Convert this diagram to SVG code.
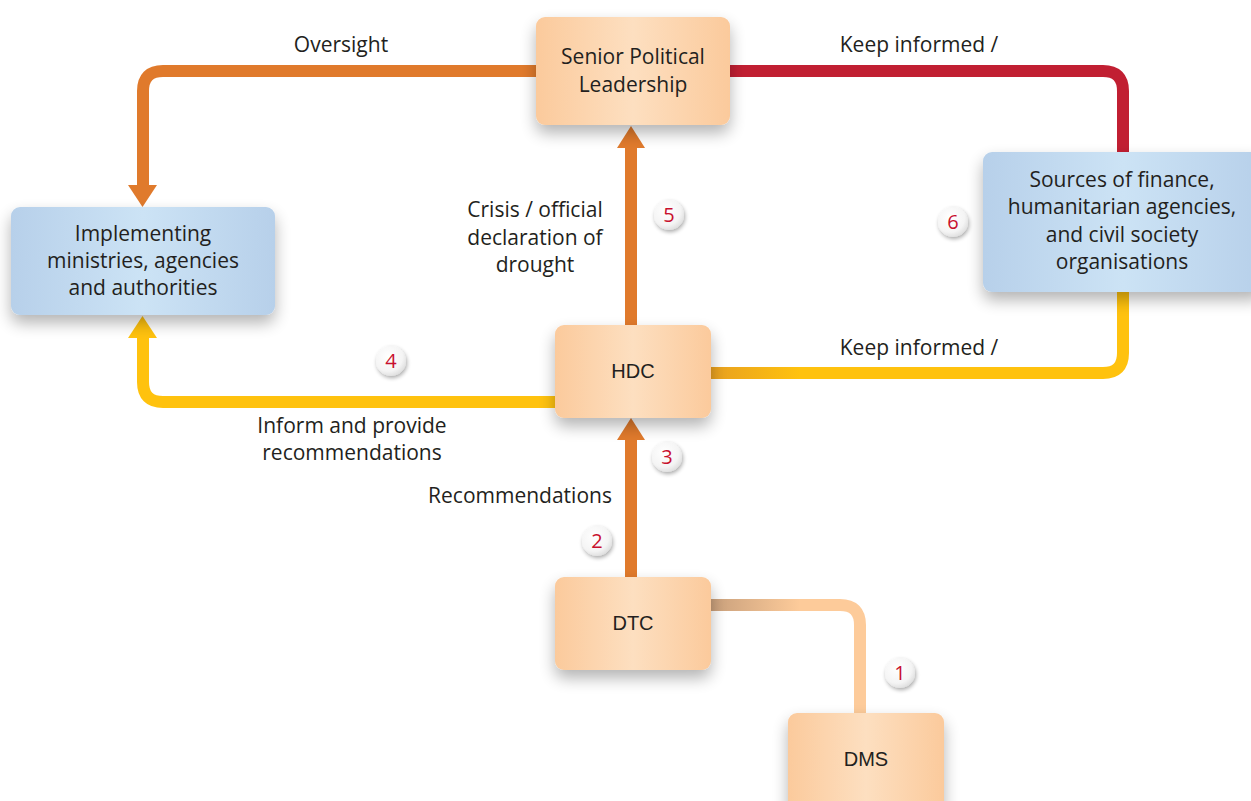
<svg xmlns="http://www.w3.org/2000/svg" width="1251" height="801" viewBox="0 0 1251 801">
<defs>
<linearGradient id="peach" x1="0" y1="0" x2="1" y2="0">
<stop offset="0" stop-color="#FBCA9C"/>
<stop offset="0.5" stop-color="#FDDFC0"/>
<stop offset="1" stop-color="#FBCA9C"/>
</linearGradient>
<linearGradient id="blue" x1="0" y1="0" x2="1" y2="0">
<stop offset="0" stop-color="#B7D0EA"/>
<stop offset="0.5" stop-color="#CCE3F5"/>
<stop offset="1" stop-color="#B7D0EA"/>
</linearGradient>
<linearGradient id="yelR" gradientUnits="userSpaceOnUse" x1="711" y1="0" x2="800" y2="0">
<stop offset="0" stop-color="#E8A020"/>
<stop offset="1" stop-color="#FFC20E"/>
</linearGradient>
<linearGradient id="dmsG" gradientUnits="userSpaceOnUse" x1="711" y1="0" x2="800" y2="0">
<stop offset="0" stop-color="#C9A07C"/>
<stop offset="1" stop-color="#FDCB9A"/>
</linearGradient>
<radialGradient id="badge" cx="0.4" cy="0.35" r="0.7">
<stop offset="0" stop-color="#FFFFFF"/>
<stop offset="0.7" stop-color="#F4F4F4"/>
<stop offset="1" stop-color="#DCDCDC"/>
</radialGradient>
<filter id="sh" x="-20%" y="-30%" width="140%" height="180%">
<feGaussianBlur in="SourceAlpha" stdDeviation="8"/>
<feOffset dy="8"/>
<feComponentTransfer><feFuncA type="linear" slope="0.3"/></feComponentTransfer>
<feMerge><feMergeNode/><feMergeNode in="SourceGraphic"/></feMerge>
</filter>
<filter id="bsh" x="-50%" y="-50%" width="200%" height="200%">
<feGaussianBlur in="SourceAlpha" stdDeviation="2"/>
<feOffset dx="1" dy="2"/>
<feComponentTransfer><feFuncA type="linear" slope="0.35"/></feComponentTransfer>
<feMerge><feMergeNode/><feMergeNode in="SourceGraphic"/></feMerge>
</filter>
<style>
.box{stroke:none}
.t{font-family:"Open Sans",Lato,sans-serif;font-size:21px;fill:#231F20;text-anchor:middle}
.ts{font-family:"Liberation Sans",Arial,sans-serif;font-size:20px;fill:#231F20;text-anchor:middle}
.lbl{font-family:"Open Sans",Lato,sans-serif;font-size:21px;fill:#231F20;text-anchor:middle}
.ln{fill:none;stroke-width:12}
.num{font-family:"Open Sans",Lato,sans-serif;font-size:20px;fill:#C8102E;text-anchor:middle}
</style>
</defs>
<rect width="1251" height="801" fill="#FFFFFF"/>

<g id="connectors">
<path class="ln" stroke="#E07A2C" d="M536,71 H163 Q143,71 143,91 V186"/>
<polygon fill="#E07A2C" points="128,185 157,185 142.5,207"/>
<path class="ln" stroke="#C11F32" d="M730,71 H1103 Q1123,71 1123,91 V152"/>
<path class="ln" stroke="url(#yelR)" d="M711,373 H800"/>
<path class="ln" stroke="#FFC20E" d="M799,373 H1103 Q1123,373 1123,353 V292"/>
<path class="ln" stroke="#FFC20E" d="M555,402 H163 Q143,402 143,382 V336"/>
<polygon fill="#FFC20E" points="128,338 157,338 142.5,316"/>
<path class="ln" stroke="#E07A2C" d="M631,325 V146"/>
<polygon fill="#E07A2C" points="617,148 645,148 631,126"/>
<path class="ln" stroke="#E07A2C" d="M631,577 V438"/>
<polygon fill="#E07A2C" points="617,440 645,440 631,418"/>
<path class="ln" stroke="url(#dmsG)" d="M711,605 H800"/>
<path class="ln" stroke="#FDCB9A" d="M799,605 H840 Q860,605 860,625 V713"/>
</g>

<g id="spl">
<rect class="box" x="536" y="17" width="194" height="108" rx="9" fill="url(#peach)" filter="url(#sh)"/>
<text class="t" x="633" y="64">Senior Political</text>
<text class="t" x="633" y="92">Leadership</text>
</g>
<g id="implementing">
<rect class="box" x="11" y="207" width="264" height="108" rx="9" fill="url(#blue)" filter="url(#sh)"/>
<text class="t" x="143" y="241">Implementing</text>
<text class="t" x="143" y="268">ministries, agencies</text>
<text class="t" x="143" y="295">and authorities</text>
</g>
<g id="sources">
<rect class="box" x="983" y="152" width="280" height="140" rx="9" fill="url(#blue)" filter="url(#sh)"/>
<text class="t" x="1122" y="187">Sources of finance,</text>
<text class="t" x="1122" y="214">humanitarian agencies,</text>
<text class="t" x="1122" y="242">and civil society</text>
<text class="t" x="1122" y="269">organisations</text>
</g>
<g id="hdc">
<rect class="box" x="555" y="325" width="156" height="93" rx="9" fill="url(#peach)" filter="url(#sh)"/>
<text class="ts" x="633" y="378">HDC</text>
</g>
<g id="dtc">
<rect class="box" x="555" y="577" width="156" height="93" rx="9" fill="url(#peach)" filter="url(#sh)"/>
<text class="ts" x="633" y="630">DTC</text>
</g>
<g id="dms">
<rect class="box" x="788" y="713" width="156" height="100" rx="9" fill="url(#peach)" filter="url(#sh)"/>
<text class="ts" x="866" y="766">DMS</text>
</g>

<g id="labels">
<text class="lbl" x="341" y="52">Oversight</text>
<text class="lbl" x="919" y="52">Keep informed /</text>
<text class="lbl" x="535" y="217">Crisis / official</text>
<text class="lbl" x="535" y="245">declaration of</text>
<text class="lbl" x="535" y="272">drought</text>
<text class="lbl" x="919" y="355">Keep informed /</text>
<text class="lbl" x="352" y="433">Inform and provide</text>
<text class="lbl" x="352" y="460">recommendations</text>
<text class="lbl" x="520" y="503">Recommendations</text>
</g>

<g id="badges">
<g filter="url(#bsh)"><circle cx="900" cy="673" r="15" fill="url(#badge)"/></g>
<text class="num" x="900" y="680">1</text>
<g filter="url(#bsh)"><circle cx="597" cy="541" r="15" fill="url(#badge)"/></g>
<text class="num" x="597" y="548">2</text>
<g filter="url(#bsh)"><circle cx="667" cy="457" r="15" fill="url(#badge)"/></g>
<text class="num" x="667" y="464">3</text>
<g filter="url(#bsh)"><circle cx="391" cy="361" r="15" fill="url(#badge)"/></g>
<text class="num" x="391" y="368">4</text>
<g filter="url(#bsh)"><circle cx="669" cy="215" r="15" fill="url(#badge)"/></g>
<text class="num" x="669" y="222">5</text>
<g filter="url(#bsh)"><circle cx="953" cy="222" r="15" fill="url(#badge)"/></g>
<text class="num" x="953" y="229">6</text>
</g>
</svg>
